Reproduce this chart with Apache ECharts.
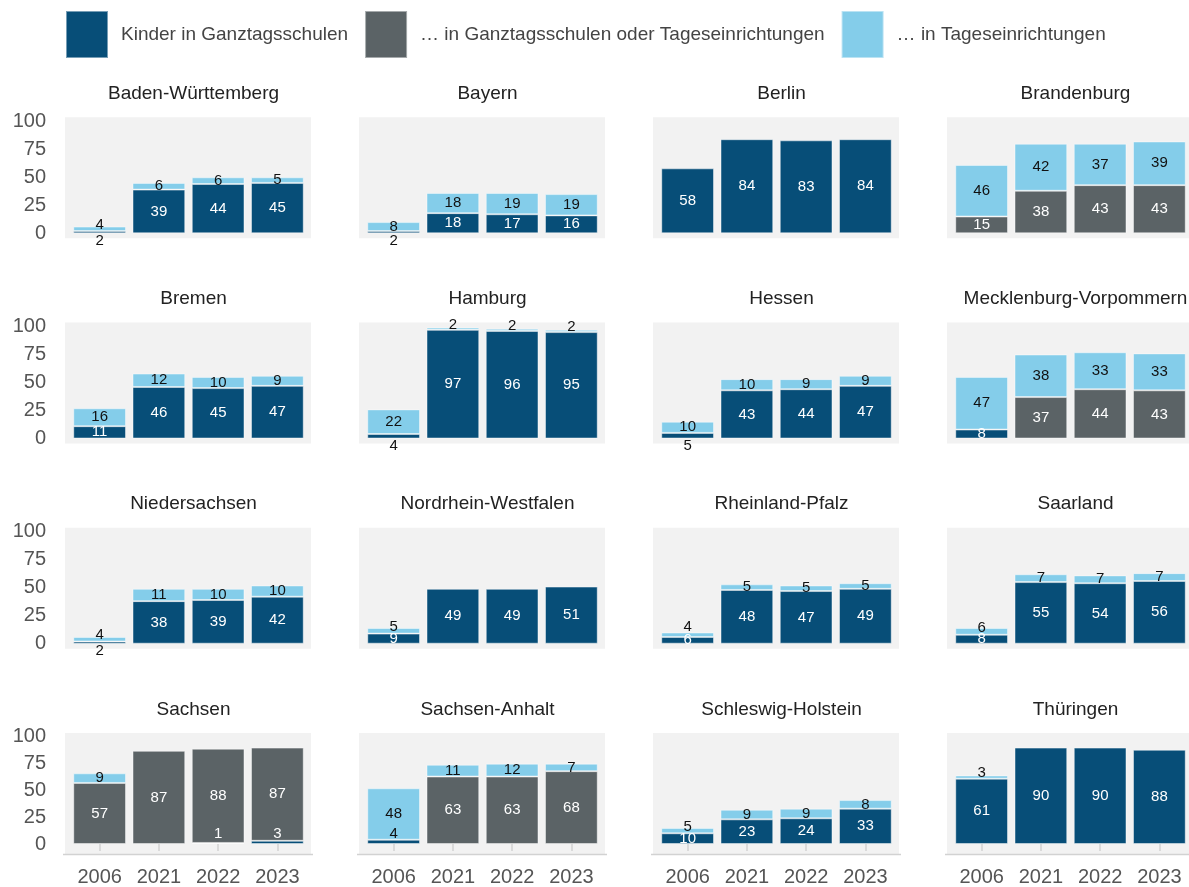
<!DOCTYPE html>
<html>
<head>
<meta charset="utf-8">
<script src="https://cdn.jsdelivr.net/npm/echarts@6/dist/echarts.min.js"></script>
<style>
html,body{margin:0;padding:0;background:#fff;}
#chart{width:1189px;height:887px;}
</style>
</head>
<body>
<div id="chart"></div>
<script>
// ---- DATA ----
const categories = ['2006', '2021', '2022', '2023'];
const yTicks = [0, 25, 50, 75, 100];
const seriesNames = ['Kinder in Ganztagsschulen', '… in Ganztagsschulen oder Tageseinrichtungen', '… in Tageseinrichtungen'];
const states = ['Baden-Württemberg', 'Bayern', 'Berlin', 'Brandenburg',
  'Bremen', 'Hamburg', 'Hessen', 'Mecklenburg-Vorpommern',
  'Niedersachsen', 'Nordrhein-Westfalen', 'Rheinland-Pfalz', 'Saarland',
  'Sachsen', 'Sachsen-Anhalt', 'Schleswig-Holstein', 'Thüringen'];
// Kinder in Ganztagsschulen
const ganztagsschulen = [
  [2, 39, 44, 45], [2, 18, 17, 16], [58, 84, 83, 84], [0, 0, 0, 0],
  [11, 46, 45, 47], [4, 97, 96, 95], [5, 43, 44, 47], [8, 0, 0, 0],
  [2, 38, 39, 42], [9, 49, 49, 51], [6, 48, 47, 49], [8, 55, 54, 56],
  [0, 0, 1, 3], [4, 0, 0, 0], [10, 23, 24, 33], [61, 90, 90, 88]
];
// ... in Ganztagsschulen oder Tageseinrichtungen
const schuleOderTages = [
  [0, 0, 0, 0], [0, 0, 0, 0], [0, 0, 0, 0], [15, 38, 43, 43],
  [0, 0, 0, 0], [0, 0, 0, 0], [0, 0, 0, 0], [0, 37, 44, 43],
  [0, 0, 0, 0], [0, 0, 0, 0], [0, 0, 0, 0], [0, 0, 0, 0],
  [57, 87, 88, 87], [0, 63, 63, 68], [0, 0, 0, 0], [0, 0, 0, 0]
];
// ... in Tageseinrichtungen
const tageseinrichtungen = [
  [4, 6, 6, 5], [8, 18, 19, 19], [0, 0, 0, 0], [46, 42, 37, 39],
  [16, 12, 10, 9], [22, 2, 2, 2], [10, 10, 9, 9], [47, 38, 33, 33],
  [4, 11, 10, 10], [5, 0, 0, 0], [4, 5, 5, 5], [6, 7, 7, 7],
  [9, 0, 0, 0], [48, 11, 12, 7], [5, 9, 9, 8], [3, 0, 0, 0]
];

// ---- STYLE / LAYOUT ----
const colors = ['#074e78', '#5b6366', '#84cdea'];
const labelColors = ['#ffffff', '#ffffff', '#111111'];
const FONT = '"Liberation Sans", Arial, sans-serif';
const gridW = 237, gridH = 112;
const colLeft = c => 70 + c * 294;
const rowTop = r => 121.3 + r * 205.2;
const pxPerUnit = gridH / 100;

const chart = echarts.init(document.getElementById('chart'), null, {renderer: 'canvas'});

const grids = [], xAxes = [], yAxes = [], series = [], titles = [], graphics = [];
const allSeries = [ganztagsschulen, schuleOderTages, tageseinrichtungen];

states.forEach((st, p) => {
  const r = Math.floor(p / 4), c = p % 4;
  const left = colLeft(c), top = rowTop(r);
  grids.push({left: left, top: top, width: gridW, height: gridH, containLabel: false});
  graphics.push({type: 'rect', z: -10, silent: true,
    shape: {x: left - 5, y: top - 4, width: gridW + 9, height: gridH + 9},
    style: {fill: '#f2f2f2'}});
  titles.push({text: st, left: left + gridW / 2, top: top - 42, textAlign: 'center',
    textStyle: {fontFamily: FONT, fontSize: 19, fontWeight: 'normal', color: '#222'}});
  const bottomRow = r === 3;
  if (bottomRow) {
    graphics.push({type: 'line', z: 5, silent: true,
      shape: {x1: left - 7, y1: top + gridH + 5.5, x2: left + gridW + 6, y2: top + gridH + 5.5},
      style: {stroke: '#d2d2d2', lineWidth: 1.5}});
  }
  xAxes.push({type: 'category', gridIndex: p, data: categories, offset: 5,
    axisLine: {show: false},
    axisTick: {show: bottomRow, alignWithLabel: true, length: 7, lineStyle: {color: '#d2d2d2', width: 1.5}},
    axisLabel: {show: bottomRow, margin: 18, fontFamily: FONT, fontSize: 20, color: '#555'},
    splitLine: {show: false}});
  yAxes.push({type: 'value', gridIndex: p, min: 0, max: 100, interval: 25,
    axisLine: {show: false}, axisTick: {show: false}, splitLine: {show: false},
    axisLabel: {show: c === 0, margin: 24, fontFamily: FONT, fontSize: 20, color: '#555',
      customValues: yTicks}});

  allSeries.forEach((arr, s) => {
    const data = categories.map((cat, i) => {
      const vals = allSeries.map(a => a[p][i]);
      const v = vals[s];
      if (!v) return '-';
      const label = {show: true, position: 'inside', color: labelColors[s]};
      const firstIdx = vals.findIndex(x => x > 0);
      let lastIdx = -1; vals.forEach((x, k) => { if (x > 0) lastIdx = k; });
      if (s === firstIdx && v <= 5 && lastIdx > s) {
        const nextIdx = vals.findIndex((x, k) => k > s && x > 0);
        if (vals[nextIdx] >= 40) {
          label.offset = [0, -(10 - v * pxPerUnit / 2)];
          label.color = labelColors[nextIdx];
        } else {
          label.position = 'bottom';
          label.distance = 0;
          label.color = '#111';
        }
      } else if (s === 2 && s === lastIdx && v <= 6 && (i === 0 || v <= 3)) {
        const below = vals[firstIdx];
        const bottomInsideSmall = firstIdx < s && below > 5 && below <= 6;
        label.offset = [0, bottomInsideSmall ? -8 : -4];
      }
      return {value: v, label: label};
    });
    series.push({
      name: seriesNames[s], type: 'bar', stack: 'st' + p,
      xAxisIndex: p, yAxisIndex: p, data: data,
      barCategoryGap: '11%',
      itemStyle: {color: colors[s], borderColor: 'rgba(255,255,255,0.45)', borderWidth: 1},
      label: {show: true, fontFamily: FONT, fontSize: 15},
      emphasis: {disabled: true}
    });
  });
});

chart.setOption({
  animation: false,
  color: colors,
  title: titles,
  legend: {
    left: 60, top: 5, itemWidth: 42, itemHeight: 47, itemGap: 16,
    icon: 'rect', selectedMode: false,
    data: seriesNames,
    textStyle: {fontFamily: FONT, fontSize: 19, color: '#444', padding: [0, 0, 0, 8]}
  },
  grid: grids,
  xAxis: xAxes,
  yAxis: yAxes,
  series: series,
  graphic: graphics
});
</script>
</body>
</html>
